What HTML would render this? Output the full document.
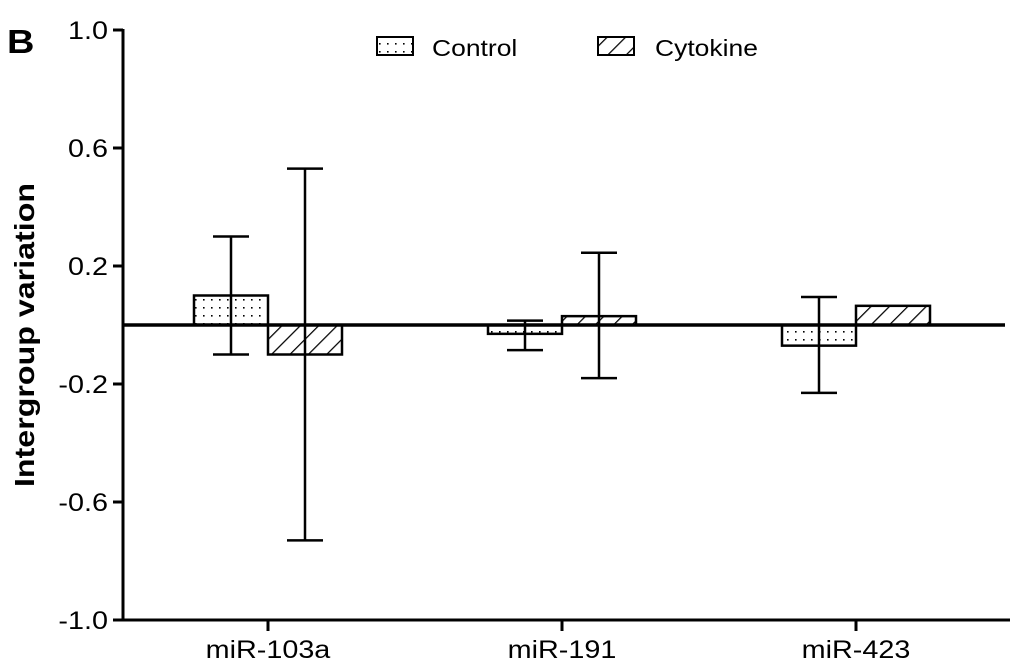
<!DOCTYPE html>
<html><head><meta charset="utf-8"><style>
body{margin:0;background:#fff;}
svg{display:block;font-family:"Liberation Sans",Arial,sans-serif;}
</style></head><body>
<svg width="1024" height="671" viewBox="0 0 1024 671">
<defs>
<pattern id="dots" width="8" height="8" patternUnits="userSpaceOnUse"><rect x="3" y="3" width="1.6" height="1.6" fill="#000"/></pattern>
<pattern id="hatch" width="13" height="13" patternUnits="userSpaceOnUse" patternTransform="rotate(45)"><line x1="0" y1="0" x2="0" y2="13" stroke="#000" stroke-width="2.5"/></pattern>
</defs>
<text class="st" x="7" y="53" font-size="33" font-weight="bold">B</text>
<text class="st" transform="translate(34,335) rotate(-90)" text-anchor="middle" font-size="28" font-weight="bold">Intergroup variation</text>
<g id="plot"></g>
<g>
<rect x="377" y="37" width="36" height="18" fill="url(#dots)" stroke="#000" stroke-width="2"/>
<text class="st" x="432" y="56" font-size="23">Control</text>
<rect x="598" y="37" width="36" height="18" fill="url(#hatch)" stroke="#000" stroke-width="2"/>
<text class="st" x="655" y="56" font-size="23">Cytokine</text>
</g>
</svg>
<script>
const categories = ["miR-103a","miR-191","miR-423"];
const controlVals = [0.10,-0.03,-0.07];
const controlHi = [0.30,0.015,0.095];
const controlLo = [-0.10,-0.085,-0.23];
const cytokineVals = [-0.10,0.03,0.065];
const cytokineHi = [0.53,0.245,0.065];
const cytokineLo = [-0.73,-0.18,0.065];
const yTicks = [1.0,0.6,0.2,-0.2,-0.6,-1.0];
const yTickLabels = ["1.0","0.6","0.2","-0.2","-0.6","-1.0"];

const NS="http://www.w3.org/2000/svg";
const g=document.getElementById('plot');
const y=v=>325-v*295;
const x=i=>268+i*294;
const bw=74;
function mk(t,a){const e=document.createElementNS(NS,t);for(const k in a)e.setAttribute(k,a[k]);g.appendChild(e);return e;}
let ya=mk('line',{x1:123,y1:29,x2:123,y2:621,stroke:'#000','stroke-width':3});


let xa=mk('line',{x1:121,y1:620,x2:1010,y2:620,stroke:'#000','stroke-width':3});


yTicks.forEach((v,i)=>{
  let t=mk('line',{x1:113,y1:y(v),x2:123,y2:y(v),stroke:'#000','stroke-width':3});
  
  
  let l=mk('text',{x:108,y:y(v)+9,'text-anchor':'end','font-size':25,'class':'st'});
  l.textContent=yTickLabels[i];
  
  
});
function bar(cx,v,hi,lo,fill,name){
  const x0=cx-bw/2;
  let r=mk('rect',{x:x0,y:Math.min(y(v),y(0)),width:bw,height:Math.abs(y(v)-y(0)),fill:fill,stroke:'#000','stroke-width':2.5});
  
  
  if(hi!==lo){
    let e=mk('path',{d:`M${cx},${y(hi)}V${y(lo)}M${cx-18},${y(hi)}H${cx+18}M${cx-18},${y(lo)}H${cx+18}`,stroke:'#000','stroke-width':2.5,fill:'none'});
    
    
  }
}
categories.forEach((c,i)=>{
  bar(x(i)-bw/2,controlVals[i],controlHi[i],controlLo[i],'url(#dots)','bar-control-'+c);
  bar(x(i)+bw/2,cytokineVals[i],cytokineHi[i],cytokineLo[i],'url(#hatch)','bar-cytokine-'+c);
  let t=mk('line',{x1:x(i),y1:620,x2:x(i),y2:631,stroke:'#000','stroke-width':3});
  
  
  let l=mk('text',{x:x(i),y:658,'text-anchor':'middle','font-size':25,'class':'st'});
  l.textContent=c;
  
  
});
let z=mk('line',{x1:123,y1:y(0),x2:1005,y2:y(0),stroke:'#000','stroke-width':3.5});


document.querySelectorAll('text.st').forEach(t=>{
  const w=t.getComputedTextLength();
  t.setAttribute('textLength',(w*1.15).toFixed(1));
  t.setAttribute('lengthAdjust','spacingAndGlyphs');
});
</script>
</body></html>
